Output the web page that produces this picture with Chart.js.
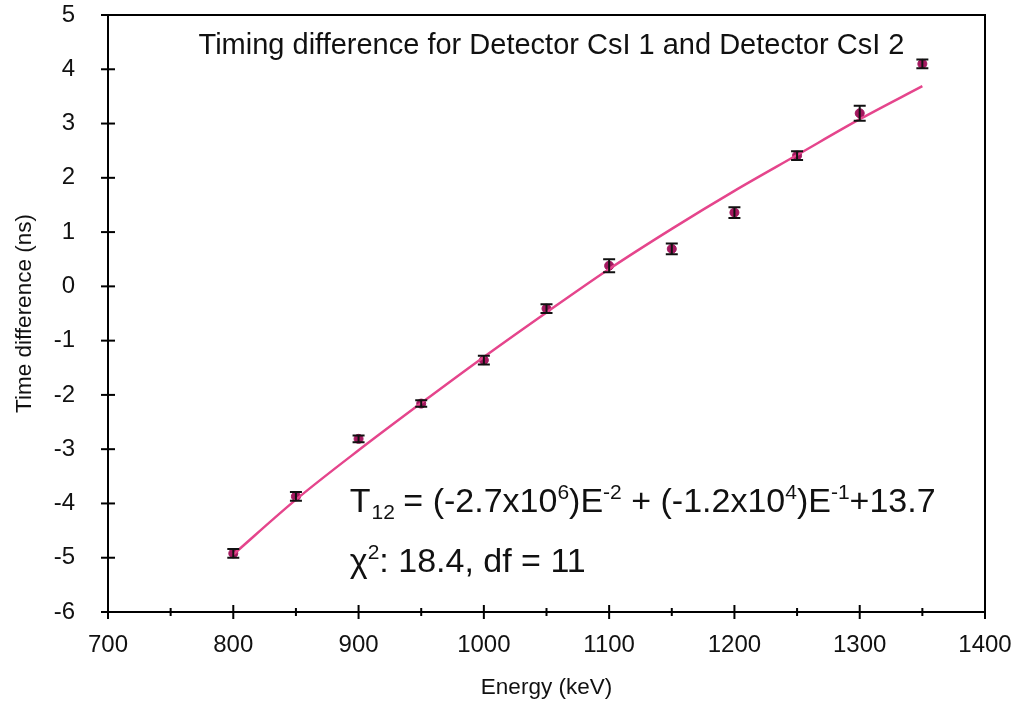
<!DOCTYPE html>
<html>
<head>
<meta charset="utf-8">
<script src="https://cdn.jsdelivr.net/npm/chart.js@4.4.1/dist/chart.umd.min.js"></script>
<style>
  html, body { margin: 0; padding: 0; background: #fff; }
  #wrap { width: 1016px; height: 707px; }
</style>
</head>
<body>
<div id="wrap"><canvas id="timing" width="1016" height="707"></canvas></div>
<script>
// measured data (keV, ns)
const energia = [800, 850, 900, 950, 1000, 1050, 1100, 1150, 1200, 1250, 1300, 1350];
const tiempo = [-4.92, -3.87, -2.81, -2.16, -1.36, -0.41, 0.38, 0.69, 1.36, 2.41, 3.19, 4.1];
const errores = [0.08, 0.08, 0.06, 0.06, 0.08, 0.08, 0.12, 0.1, 0.1, 0.08, 0.14, 0.08];
// fit curve
const ajuste = [-4.94, -3.93, -3.02, -2.15, -1.3, -0.48, 0.32, 1.06, 1.76, 2.42, 3.08, 3.69];
const xTicks = [700, 750, 800, 850, 900, 950, 1000, 1050, 1100, 1150, 1200, 1250, 1300, 1350, 1400];
const yTicks = [-6, -5, -4, -3, -2, -1, 0, 1, 2, 3, 4, 5];

const titulo = 'Timing difference for Detector CsI 1 and Detector CsI 2';
const ecuacion = [['T', ''], ['12', 'sub'], [' = (-2.7x10', ''], ['6', 'sup'], [')E', ''], ['-2', 'sup'],
  [' + (-1.2x10', ''], ['4', 'sup'], [')E', ''], ['-1', 'sup'], ['+13.7', '']];
const chi = [['\u03C7', ''], ['2', 'sup'], [': 18.4, df = 11', '']];

const FONT = '"Liberation Sans", Arial, Helvetica, sans-serif';

function dibujarTexto(ctx, partes, x, y, size) {
    let cx = x;
    partes.forEach(([txt, tipo]) => {
        if (tipo === 'sup') {
            ctx.font = Math.round(size * 0.62) + 'px ' + FONT;
            ctx.fillText(txt, cx, y - size * 0.38);
        } else if (tipo === 'sub') {
            ctx.font = Math.round(size * 0.62) + 'px ' + FONT;
            ctx.fillText(txt, cx + 1, y + size * 0.2);
        } else {
            ctx.font = size + 'px ' + FONT;
            ctx.fillText(txt, cx, y);
        }
        cx += ctx.measureText(txt).width;
    });
}

function sinRelleno(scale) {
    scale.paddingTop = 0;
    scale.paddingBottom = 0;
    scale.paddingLeft = 0;
    scale.paddingRight = 0;
}

const extras = {
    id: 'extras',
    afterDatasetsDraw(chart) {
        const ctx = chart.ctx;
        const xs = chart.scales.x;
        const ys = chart.scales.y;
        const area = chart.chartArea;
        ctx.save();

        // error bars
        ctx.strokeStyle = '#111';
        ctx.lineWidth = 2;
        energia.forEach((e, i) => {
            const px = xs.getPixelForValue(e);
            const top = ys.getPixelForValue(tiempo[i] + errores[i]);
            const bot = ys.getPixelForValue(tiempo[i] - errores[i]);
            ctx.beginPath();
            ctx.moveTo(px, top); ctx.lineTo(px, bot);
            ctx.moveTo(px - 6, top); ctx.lineTo(px + 6, top);
            ctx.moveTo(px - 6, bot); ctx.lineTo(px + 6, bot);
            ctx.stroke();
        });

        // frame top and right
        ctx.strokeStyle = '#000';
        ctx.lineWidth = 2;
        ctx.beginPath();
        ctx.moveTo(area.left, area.top);
        ctx.lineTo(area.right, area.top);
        ctx.lineTo(area.right, area.bottom);
        ctx.stroke();

        // tick marks crossing the axes
        xTicks.forEach(v => {
            const px = xs.getPixelForValue(v);
            const len = v % 100 === 0 ? 7 : 4;
            ctx.beginPath();
            ctx.moveTo(px, area.bottom - len);
            ctx.lineTo(px, area.bottom + len);
            ctx.stroke();
        });
        yTicks.forEach(v => {
            const py = ys.getPixelForValue(v);
            ctx.beginPath();
            ctx.moveTo(area.left - 7, py);
            ctx.lineTo(area.left + 7, py);
            ctx.stroke();
        });

        // texts inside the plot
        ctx.fillStyle = '#111';
        ctx.textBaseline = 'alphabetic';
        ctx.textAlign = 'center';
        ctx.font = '29px ' + FONT;
        ctx.fillText(titulo, xs.getPixelForValue(1054), ys.getPixelForValue(4.28));
        ctx.textAlign = 'left';
        dibujarTexto(ctx, ecuacion, xs.getPixelForValue(893), ys.getPixelForValue(-4.16), 34);
        dibujarTexto(ctx, chi, xs.getPixelForValue(893), ys.getPixelForValue(-5.26), 34);
        ctx.restore();
    }
};

const ctx = document.getElementById('timing').getContext('2d');
const grafico = new Chart(ctx, {
    type: 'scatter',
    data: {
        datasets: [{
            label: 'Datos',
            data: energia.map((e, i) => ({ x: e, y: tiempo[i] })),
            pointRadius: 4.5,
            pointBackgroundColor: '#a3185f',
            pointBorderColor: '#a3185f',
            showLine: false,
            order: 2
        }, {
            label: 'Ajuste',
            data: energia.map((e, i) => ({ x: e, y: ajuste[i] })),
            showLine: true,
            borderColor: '#e5458c',
            borderWidth: 2.5,
            pointRadius: 0,
            tension: 0.4,
            cubicInterpolationMode: 'monotone',
            order: 1
        }]
    },
    options: {
        responsive: false,
        animation: false,
        layout: {
            padding: { left: 0, right: 31, top: 15, bottom: 0 }
        },
        scales: {
            x: {
                type: 'linear',
                min: 700,
                max: 1400,
                afterBuildTicks: (scale) => { scale.ticks = xTicks.map(v => ({ value: v })); },
                afterFit: (scale) => { scale.height = 95; sinRelleno(scale); },
                grid: { display: false, drawTicks: false },
                border: { display: true, color: '#000', width: 2 },
                ticks: {
                    color: '#111',
                    font: { size: 24, family: FONT },
                    padding: 19,
                    maxRotation: 0,
                    autoSkip: false,
                    callback: (v) => (v % 100 === 0 ? v : '')
                },
                title: {
                    display: true,
                    text: 'Energy (keV)',
                    color: '#111',
                    font: { size: 22.5, family: FONT },
                    padding: { top: 0, bottom: 6 }
                }
            },
            y: {
                type: 'linear',
                min: -6,
                max: 5,
                afterBuildTicks: (scale) => { scale.ticks = yTicks.map(v => ({ value: v })); },
                afterFit: (scale) => { scale.width = 108; sinRelleno(scale); },
                grid: { display: false, drawTicks: false },
                border: { display: true, color: '#000', width: 2 },
                ticks: {
                    color: '#111',
                    font: { size: 24, family: FONT },
                    padding: 33
                },
                title: {
                    display: true,
                    text: 'Time difference (ns)',
                    color: '#111',
                    font: { size: 22.5, family: FONT },
                    padding: { top: 11, bottom: 0 }
                }
            }
        },
        plugins: {
            legend: { display: false },
            tooltip: { enabled: false }
        }
    },
    plugins: [extras]
});
</script>
</body>
</html>
